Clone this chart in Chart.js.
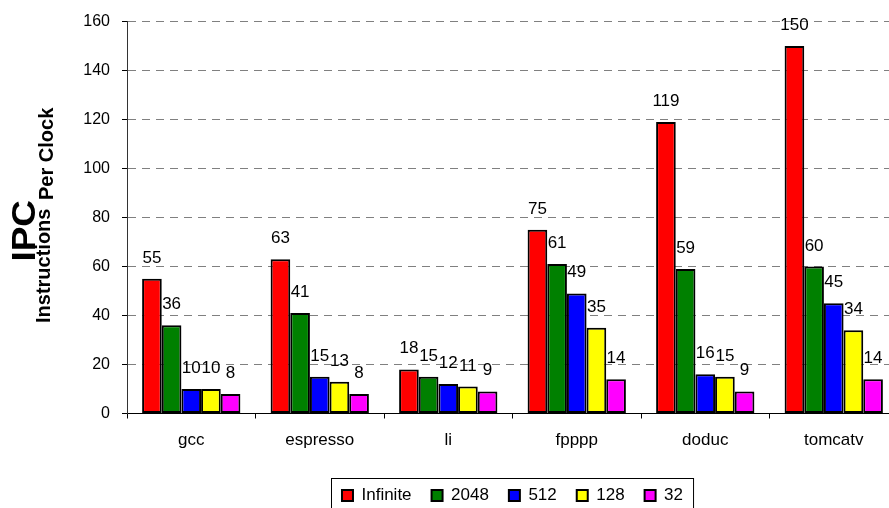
<!DOCTYPE html>
<html>
<head>
<meta charset="utf-8">
<script src="https://cdn.jsdelivr.net/npm/chart.js@4"></script>
<style>
    html, body { margin: 0; padding: 0; overflow: hidden; background: #fff; }
    #wrap { position: relative; width: 898px; height: 514px; }
</style>
</head>
<body>
<div id="wrap"><canvas id="graficoIPC"></canvas></div>
<script>
// Datos del gráfico
const categorias = ['gcc', 'espresso', 'li', 'fpppp', 'doduc', 'tomcatv'];
const series = ['Infinite', '2048', '512', '128', '32'];
const infinite = [55, 63, 18, 75, 119, 150];
const v2048 = [36, 41, 15, 61, 59, 60];
const v512 = [10, 15, 12, 49, 16, 45];
const v128 = [10, 13, 11, 35, 15, 34];
const v32 = [8, 8, 9, 14, 9, 14];
const ticksY = [0, 20, 40, 60, 80, 100, 120, 140, 160];

const colores = ['#ff0000', '#008000', '#0000ff', '#ffff00', '#ff00ff'];
const valores = [infinite, v2048, v512, v128, v32];
const fuente = '"Liberation Sans", Arial, sans-serif';

// etiquetas de valor encima de cada barra
const etiquetas = {
    id: 'etiquetas',
    afterDatasetsDraw(chart) {
        const ctx = chart.ctx;
        ctx.save();
        ctx.font = '17px ' + fuente;
        ctx.fillStyle = '#000';
        ctx.textAlign = 'center';
        ctx.textBaseline = 'alphabetic';
        chart.data.datasets.forEach((ds, i) => {
            chart.getDatasetMeta(i).data.forEach((bar, j) => {
                ctx.fillText(String(ds.data[j]), bar.x, bar.y - 16);
            });
        });
        ctx.restore();
    }
};

// título del eje Y y marco de la leyenda
const adornos = {
    id: 'adornos',
    afterDraw(chart) {
        const ctx = chart.ctx;
        ctx.save();
        ctx.fillStyle = '#000';
        ctx.textBaseline = 'alphabetic';

        ctx.save();
        ctx.translate(35, 200);
        ctx.rotate(-Math.PI / 2);
        ctx.scale(1.12, 1);
        ctx.textAlign = 'right';
        ctx.font = 'bold 33px ' + fuente;
        ctx.fillText('IPC', 0, 0);
        ctx.restore();

        ctx.save();
        ctx.translate(50, 323);
        ctx.rotate(-Math.PI / 2);
        ctx.textAlign = 'left';
        ctx.font = 'bold 20px ' + fuente;
        ctx.fillText('Instructions', 0, 0);
        ctx.restore();

        ctx.save();
        ctx.translate(53, 200);
        ctx.rotate(-Math.PI / 2);
        ctx.textAlign = 'left';
        ctx.font = 'bold 20px ' + fuente;
        ctx.fillText('Per Clock', 0, 0);
        ctx.restore();

        const cajas = chart.legend.legendHitBoxes;
        if (cajas && cajas.length) {
            const izq = cajas[0].left - 11;
            const ult = cajas[cajas.length - 1];
            const der = ult.left + ult.width + 10;
            const arriba = cajas[0].top + cajas[0].height / 2 - 18;
            ctx.strokeStyle = '#000';
            ctx.lineWidth = 1;
            ctx.strokeRect(Math.round(izq) + 0.5, Math.round(arriba) + 0.5, der - izq, 60);
        }
        ctx.restore();
    }
};

const ctx = document.getElementById('graficoIPC').getContext('2d');
new Chart(ctx, {
    type: 'bar',
    data: {
        labels: categorias,
        datasets: series.map((nombre, i) => ({
            label: nombre,
            data: valores[i],
            backgroundColor: colores[i],
            borderColor: '#000',
            borderWidth: 2,
            borderSkipped: false,
            barPercentage: 1,
            categoryPercentage: 0.765
        }))
    },
    options: {
        responsive: true,
        maintainAspectRatio: false,
        animation: false,
        layout: { padding: { top: 20, left: 0, right: 0, bottom: 0 } },
        scales: {
            x: {
                grid: {
                    display: true,
                    drawOnChartArea: false,
                    tickLength: 5,
                    tickColor: '#000',
                    offset: true
                },
                border: { color: '#000', width: 1 },
                ticks: {
                    color: '#000',
                    font: { family: fuente, size: 17 },
                    padding: 12
                },
                afterFit(s) { s.height = 53.5; }
            },
            y: {
                min: 0,
                max: 160,
                afterBuildTicks(s) { s.ticks = ticksY.map(v => ({ value: v })); },
                grid: {
                    color: c => (c.tick && c.tick.value === 0) ? 'rgba(0,0,0,0)' : '#808080',
                    lineWidth: 1,
                    tickLength: 5,
                    tickColor: '#000',
                    tickBorderDash: []
                },
                border: { color: '#333', width: 1, dash: [8, 6] },
                ticks: {
                    color: '#000',
                    font: { family: fuente, size: 16 },
                    padding: 12
                },
                afterFit(s) { s.width = 127; }
            }
        },
        plugins: {
            legend: {
                position: 'bottom',
                fullSize: false,
                labels: {
                    color: '#000',
                    font: { family: fuente, size: 17 },
                    boxWidth: 11,
                    boxHeight: 11,
                    padding: 20
                }
            },
            title: { display: false },
            tooltip: { enabled: false }
        }
    },
    plugins: [etiquetas, adornos]
});
</script>
</body>
</html>
